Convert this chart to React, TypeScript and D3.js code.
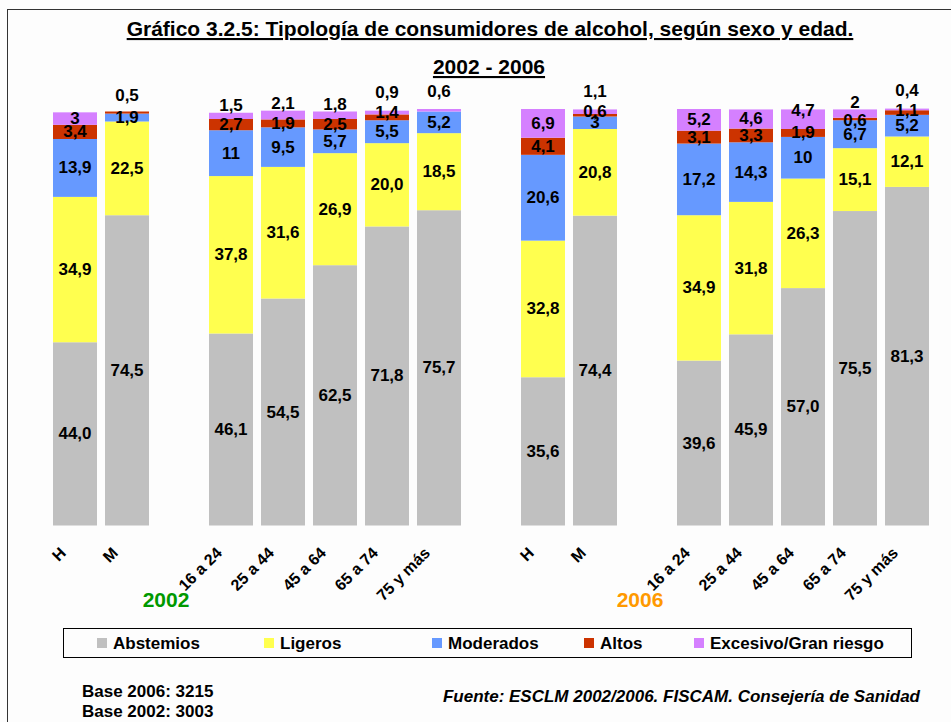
import React from 'react';
import * as d3 from 'd3';

const categories = ['H', 'M', '16 a 24', '25 a 44', '45 a 64', '65 a 74', '75 y más'];
const series = ['Abstemios', 'Ligeros', 'Moderados', 'Altos', 'Excesivo/Gran riesgo'];
const years = ['2002', '2006'];

// 2002
const abstemios2002 = [44.0, 74.5, 46.1, 54.5, 62.5, 71.8, 75.7];
const ligeros2002 = [34.9, 22.5, 37.8, 31.6, 26.9, 20.0, 18.5];
const moderados2002 = [13.9, 1.9, 11, 9.5, 5.7, 5.5, 5.2];
const altos2002 = [3.4, 0.5, 2.7, 1.9, 2.5, 1.4, 0];
const excesivo2002 = [3, 0, 1.5, 2.1, 1.8, 0.9, 0.6];

// 2006
const abstemios2006 = [35.6, 74.4, 39.6, 45.9, 57.0, 75.5, 81.3];
const ligeros2006 = [32.8, 20.8, 34.9, 31.8, 26.3, 15.1, 12.1];
const moderados2006 = [20.6, 3, 17.2, 14.3, 10, 6.7, 5.2];
const altos2006 = [4.1, 0.6, 3.1, 3.3, 1.9, 0.6, 1.1];
const excesivo2006 = [6.9, 1.1, 5.2, 4.6, 4.7, 2, 0.4];

const colors = ['#C0C0C0', '#FFFF4F', '#6699FF', '#CC3300', '#D580FF'];
const FONT = '"Liberation Sans", Arial, sans-serif';

const byYear: Record<string, number[][]> = {
  '2002': [abstemios2002, ligeros2002, moderados2002, altos2002, excesivo2002],
  '2006': [abstemios2006, ligeros2006, moderados2006, altos2006, excesivo2006],
};

// rows for the stack, with empty slots between the groups
const slots: string[] = [];
const rows: any[] = [];
years.forEach((yr, yi) => {
  if (yi > 0) slots.push('gap-' + yr);
  categories.forEach((c, ci) => {
    const key = yr + '|' + c;
    slots.push(key);
    if (ci === 1) slots.push('gap2-' + yr);
    const row: any = { key, year: yr, cat: c };
    series.forEach((s, si) => (row[s] = byYear[yr][si][ci]));
    rows.push(row);
  });
});

const fmt = (v: number, si: number) =>
  (si < 2 ? d3.format('.1f')(v) : String(v)).replace('.', ',');

export default function App() {
  const width = 951;
  const height = 722;

  const x = d3.scaleBand<string>().domain(slots).range([49, 933]).paddingInner(0.154).paddingOuter(0.077);
  const y = d3.scaleLinear().domain([0, 100]).range([525.5, 109]);

  const stacked = d3.stack<any>().keys(series)(rows);

  // value labels: centred in the segment, small top ones pushed above the bar
  const labels: any[] = [];
  rows.forEach((r, ri) => {
    const total = d3.sum(series, (s) => r[s]);
    const top = y(total);
    const cx = x(r.key)! + x.bandwidth() / 2;
    series.forEach((s, si) => {
      const v = r[s];
      if (!v) return;
      const seg = stacked[si][ri];
      let ly = (y(seg[0]) + y(seg[1])) / 2;
      const altos = r[series[3]];
      const exc = r[series[4]];
      if (si === 4) {
        if (v < 3) ly = top - (altos < 1.5 && v < 1.5 ? 18 : 7);
        else if (v < 5 && altos < 2) ly = top + 1;
      } else if (si === 3) {
        if (!exc) ly = top - 16;
        else if (v < 1.5 && exc < 1.5) ly = top + 2;
        else if (v < 1.5) ly += 2;
      }
      labels.push({ key: r.key + si, x: cx, y: ly, text: fmt(v, si) });
    });
  });

  const legendX = [97, 264, 432, 584, 694];

  return (
    <div style={{ position: 'absolute', left: 0, top: 0 }}>
      <svg width={width} height={height} style={{ display: 'block', background: '#fdfdfd' }} fontFamily={FONT}>
        <rect x={7.5} y={9.5} width={960} height={730} fill="#fdfdfd" stroke="#333" />

        <text x={490} y={36} textAnchor="middle" fontSize={21} fontWeight="bold" textDecoration="underline">
          Gráfico 3.2.5: Tipología de consumidores de alcohol, según sexo y edad.
        </text>
        <text x={489} y={74} textAnchor="middle" fontSize={21} fontWeight="bold" textDecoration="underline">
          2002 - 2006
        </text>

        {stacked.map((layer, si) => (
          <g key={series[si]} fill={colors[si]}>
            {layer.map((d: any) =>
              d[1] - d[0] > 0 ? (
                <rect key={d.data.key} x={x(d.data.key)} y={y(d[1])} width={x.bandwidth()} height={y(d[0]) - y(d[1])} />
              ) : null
            )}
          </g>
        ))}

        {labels.map((l) => (
          <text key={l.key} x={l.x} y={l.y} textAnchor="middle" dominantBaseline="central" fontSize={17} fontWeight="bold">
            {l.text}
          </text>
        ))}

        {rows.map((r) => {
          const ax = x(r.key)! + x.bandwidth() / 2 - 8;
          return (
            <text key={'c' + r.key} transform={`translate(${ax},554) rotate(-45)`} textAnchor="end" fontSize={16} fontWeight="bold">
              {r.cat}
            </text>
          );
        })}

        <text x={166} y={607} textAnchor="middle" fontSize={21} fontWeight="bold" fill="#009900">2002</text>
        <text x={640} y={607} textAnchor="middle" fontSize={21} fontWeight="bold" fill="#FF9900">2006</text>

        <rect x={63.5} y={628.5} width={848} height={29} fill="#fdfdfd" stroke="#000" />
        {series.map((s, i) => (
          <g key={s} transform={`translate(${legendX[i]},638)`}>
            <rect width={10} height={10} fill={colors[i]} />
            <text x={16} y={10.5} fontSize={17} fontWeight="bold">{s}</text>
          </g>
        ))}

        <text x={82} y={697} fontSize={17} fontWeight="bold">Base 2006: 3215</text>
        <text x={82} y={717} fontSize={17} fontWeight="bold">Base 2002: 3003</text>
        <text x={920} y={702} textAnchor="end" fontSize={17} fontWeight="bold" fontStyle="italic">
          Fuente: ESCLM 2002/2006. FISCAM. Consejería de Sanidad
        </text>
      </svg>
    </div>
  );
}
